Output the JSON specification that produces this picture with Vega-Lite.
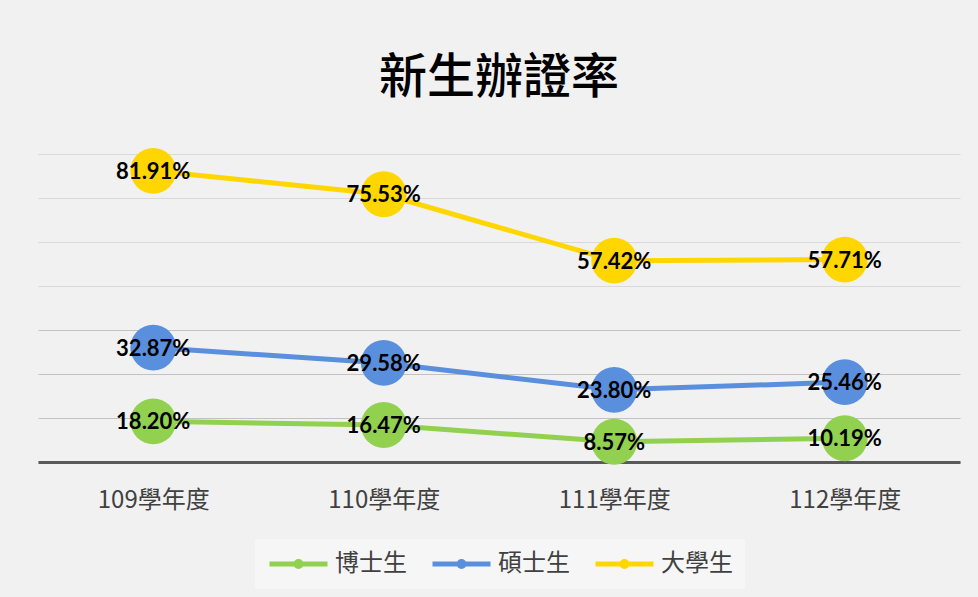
{
  "$schema": "https://vega.github.io/schema/vega-lite/v6.json",
  "width": 922,
  "height": 308,
  "autosize": {"type": "none"},
  "padding": {"left": 38, "top": 154, "right": 18, "bottom": 135},
  "background": "#f1f1f1",
  "title": {
    "text": "新生辦證率",
    "font": "Noto Sans CJK TC",
    "fontSize": 48,
    "fontWeight": 500,
    "color": "#000000",
    "anchor": "middle",
    "offset": 45
  },
  "data": {
    "values": [
      {"year": "109學年度", "series": "博士生", "value": 0.1820},
      {"year": "110學年度", "series": "博士生", "value": 0.1647},
      {"year": "111學年度", "series": "博士生", "value": 0.0857},
      {"year": "112學年度", "series": "博士生", "value": 0.1019},
      {"year": "109學年度", "series": "碩士生", "value": 0.3287},
      {"year": "110學年度", "series": "碩士生", "value": 0.2958},
      {"year": "111學年度", "series": "碩士生", "value": 0.2380},
      {"year": "112學年度", "series": "碩士生", "value": 0.2546},
      {"year": "109學年度", "series": "大學生", "value": 0.8191},
      {"year": "110學年度", "series": "大學生", "value": 0.7553},
      {"year": "111學年度", "series": "大學生", "value": 0.5742},
      {"year": "112學年度", "series": "大學生", "value": 0.5771}
    ]
  },
  "encoding": {
    "x": {
      "field": "year",
      "type": "nominal",
      "sort": null,
      "scale": {"type": "point", "padding": 0.5},
      "axis": {
        "title": null,
        "labelAngle": 0,
        "ticks": false,
        "domain": true,
        "domainColor": "#595959",
        "domainWidth": 3,
        "grid": false,
        "labelFont": "Noto Sans CJK TC",
        "labelFontSize": 24,
        "labelColor": "#404040",
        "labelPadding": 26
      }
    },
    "color": {
      "field": "series",
      "type": "nominal",
      "scale": {
        "domain": ["博士生", "碩士生", "大學生"],
        "range": ["#92d050", "#5a8fde", "#ffd600"]
      },
      "legend": {
        "title": null,
        "orient": "none",
        "legendX": 217,
        "legendY": 385,
        "direction": "horizontal",
        "fillColor": "#f6f6f6",
        "padding": 12,
        "symbolType": "M-1,0L4.8,0M1.65,0A0.25,0.25 0 1,0 2.15,0A0.25,0.25 0 1,0 1.65,0",
        "symbolSize": 400,
        "symbolStrokeWidth": 5,
        "labelFont": "Noto Sans CJK TC",
        "labelFontSize": 24,
        "labelColor": "#404040",
        "labelOffset": 43,
        "columnPadding": 15,
        "labelLimit": 200
      }
    }
  },
  "layer": [
    {
      "transform": [{"filter": "datum.series === '大學生'"}],
      "encoding": {
        "y": {
          "field": "value",
          "type": "quantitative",
          "scale": {"domain": [0.025, 0.865], "nice": false, "zero": false},
          "axis": {
            "title": null,
            "labels": false,
            "ticks": false,
            "domain": false,
            "grid": true,
            "gridWidth": 1.2,
            "gridColor": {"condition": {"test": "datum.value < 0.4", "value": "#c2c2c2"}, "value": "#d9d9d9"},
            "values": [0.025, 0.145, 0.265, 0.385, 0.505, 0.625, 0.745, 0.865]
          }
        }
      },
      "layer": [
        {"mark": {"type": "line", "strokeWidth": 5, "strokeCap": "round"}},
        {"mark": {"type": "point", "filled": true, "opacity": 1, "size": 2100}},
        {
          "mark": {"type": "text", "font": "Lato", "fontWeight": "bold", "fontSize": 22, "dy": 1},
          "encoding": {"text": {"field": "value", "format": ".2%"}, "color": {"value": "#000000"}}
        }
      ]
    },
    {
      "transform": [{"filter": "datum.series === '碩士生'"}],
      "encoding": {
        "y": {
          "field": "value",
          "type": "quantitative",
          "scale": {"domain": [0.0831, 0.7443], "nice": false, "zero": false},
          "axis": null
        }
      },
      "layer": [
        {"mark": {"type": "line", "strokeWidth": 5, "strokeCap": "round"}},
        {"mark": {"type": "point", "filled": true, "opacity": 1, "size": 2100}},
        {
          "mark": {"type": "text", "font": "Lato", "fontWeight": "bold", "fontSize": 22, "dy": 1},
          "encoding": {"text": {"field": "value", "format": ".2%"}, "color": {"value": "#000000"}}
        }
      ]
    },
    {
      "transform": [{"filter": "datum.series === '博士生'"}],
      "encoding": {
        "y": {
          "field": "value",
          "type": "quantitative",
          "scale": {"domain": [-0.01, 1.443], "nice": false, "zero": false},
          "axis": null
        }
      },
      "layer": [
        {"mark": {"type": "line", "strokeWidth": 5, "strokeCap": "round"}},
        {"mark": {"type": "point", "filled": true, "opacity": 1, "size": 2100}},
        {
          "mark": {"type": "text", "font": "Lato", "fontWeight": "bold", "fontSize": 22, "dy": 1},
          "encoding": {"text": {"field": "value", "format": ".2%"}, "color": {"value": "#000000"}}
        }
      ]
    }
  ],
  "resolve": {"scale": {"y": "independent"}},
  "config": {"view": {"stroke": null}}
}
